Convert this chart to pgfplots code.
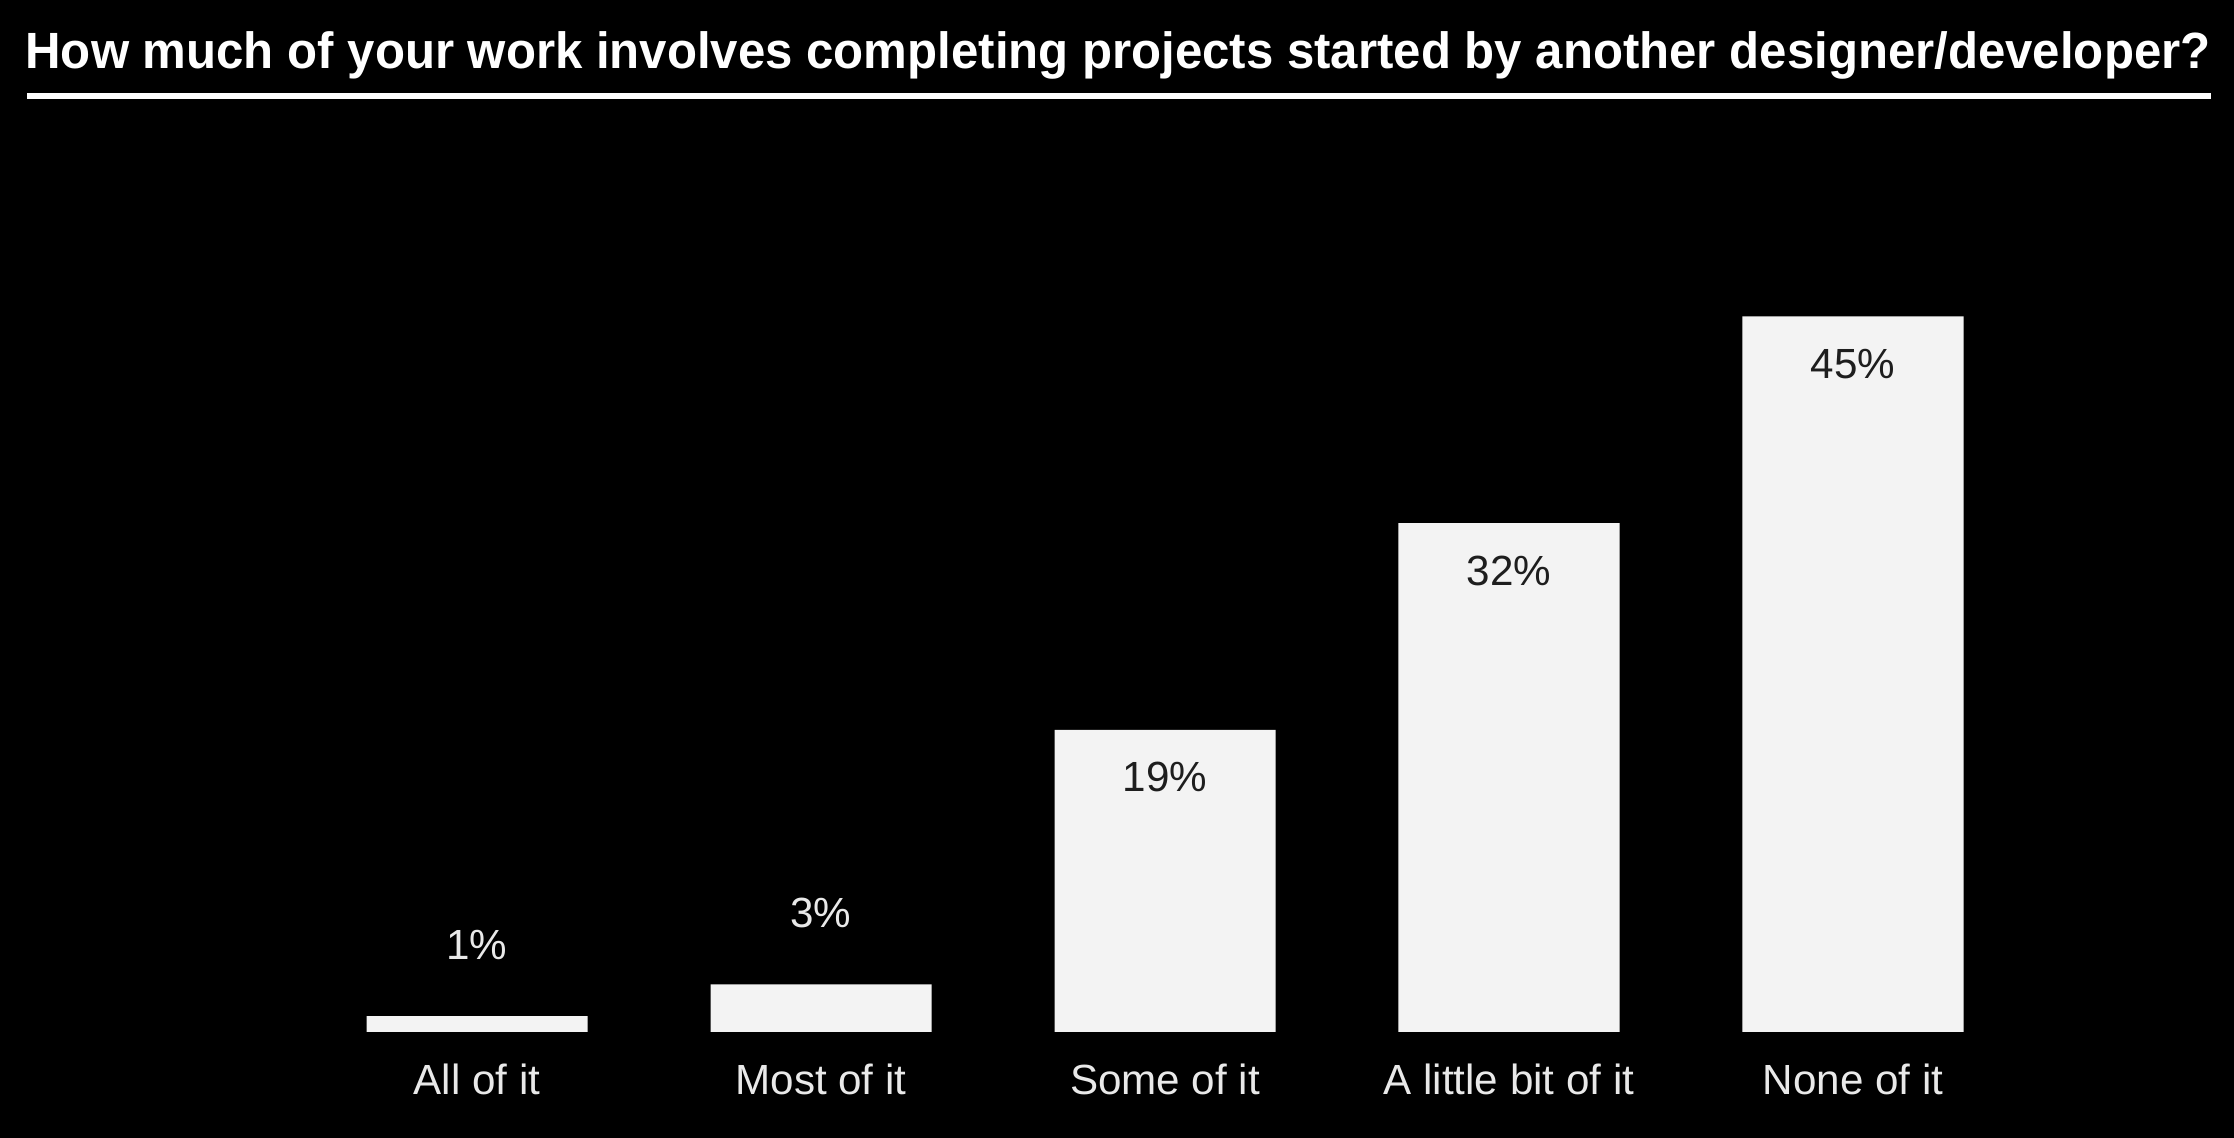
\documentclass[border=0pt]{standalone}
\usepackage{graphicx}
\usepackage{pgfplots}
\pgfplotsset{compat=1.18}
\usepackage{fontspec}
\setmainfont{Liberation Sans}

\definecolor{barfill}{HTML}{F3F3F3}
\definecolor{inlabel}{HTML}{1E1E1E}
\definecolor{outlabel}{HTML}{E9E9E9}

\begin{document}
\begin{tikzpicture}
% black canvas, 1px of the reference = 0.1mm
\fill[black] (0,0) rectangle (223.4mm,113.8mm);
\useasboundingbox (0,0) rectangle (223.4mm,113.8mm);

% title and the rule under it
\node[anchor=base, text=white, font=\fontsize{14.5}{16}\selectfont\bfseries, inner sep=0pt]
  at (111.8mm,106.97mm) {\resizebox{218.5mm}{\height}{How much of your work involves completing projects started by another designer/developer?}};
\draw[white, line width=0.6mm] (2.7mm,104.17mm) -- (221.1mm,104.17mm);

\begin{axis}[
    at={(30.5mm,10.6mm)}, anchor=south west,
    scale only axis,
    width=172mm, height=79.5mm,
    xmin=-0.5, xmax=4.5,
    ymin=0, ymax=50,
    axis line style={draw=none},
    ytick=\empty,
    xtick={0,1,2,3,4},
    xticklabels={All of it,Most of it,Some of it,A little bit of it,None of it},
    major tick length=0pt,
    xticklabel style={anchor=base, yshift=-6.3mm, text=outlabel, font=\fontsize{12}{14}\selectfont},
    ybar, bar width=22.1mm,
    /pgf/number format/assume math mode=true,
    nodes near coords={\pgfmathprintnumber{\pgfplotspointmeta}\%},
    every node near coord/.append style={font=\fontsize{12}{14}\selectfont},
    clip=false,
    ]

    % small shares, label above the bar
    \addplot[fill=barfill, draw=none, bar shift=0pt,
        nodes near coords style={anchor=base, yshift=5.7mm, text=outlabel}]
        coordinates {(0,1) (1,3)};
    % larger shares, label inside the bar
    \addplot[fill=barfill, draw=none, bar shift=0pt,
        nodes near coords style={anchor=base, yshift=-6.2mm, text=inlabel}]
        coordinates {(2,19) (3,32) (4,45)};
\end{axis}
\end{tikzpicture}
\end{document}
